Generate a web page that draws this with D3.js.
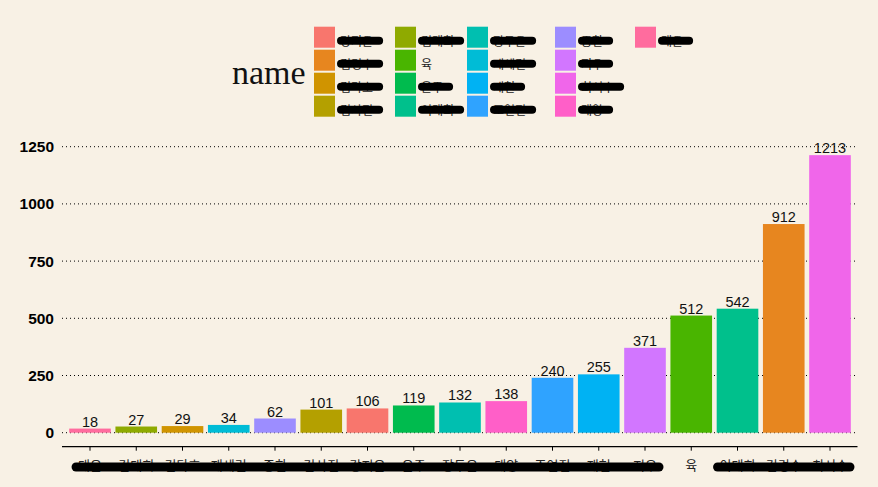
<!DOCTYPE html>
<html><head><meta charset="utf-8">
<script src="https://cdn.jsdelivr.net/npm/d3@7"></script>
<style>body{margin:0;background:#f8f1e5;} svg{display:block;}</style>
</head><body><svg id="c" width="878" height="487"></svg>
<script>
// ---- data ----
const categories = ["태은","김태희","김다호","재세린","종한","김사진","강지은","윤주","장두은","태양","조연진","재현","지우","육","이태희","김경수","최서수"];
const values = [18,27,29,34,62,101,106,119,132,138,240,255,371,512,542,912,1213];
const yTicks = [0,250,500,750,1000,1250];
const palette = ["#F8766D","#E7861F","#D09400","#B4A000","#8FAA00","#49B500","#00BB4E","#00C08C","#00BFB0","#00BCD6","#00B2F3","#2FA3FF","#9C8DFF","#D276FF","#F066EA","#FF5FC8","#FF6C9E"];
const legendTitle = "name";

const svg = d3.select("#c");
const W = 878, H = 487;
svg.append("rect").attr("width",W).attr("height",H).attr("fill","#f8f1e5");

const sorted = categories.slice().sort(d3.ascending);
const color = d3.scaleOrdinal().domain(sorted).range(palette);

const x = d3.scaleBand().domain(categories).range([62.25, 857.75]).paddingInner(0.1).paddingOuter(0.15);
const y = d3.scaleLinear().domain([0,1250]).range([432.7,146.7]);

// gridlines
svg.append("g").selectAll("line").data(yTicks).join("line")
  .attr("x1",62).attr("x2",857).attr("y1",d=>y(d)).attr("y2",d=>y(d))
  .attr("stroke","#000").attr("stroke-width",1).attr("stroke-dasharray","1,3");

// y labels
svg.append("g").selectAll("text").data(yTicks).join("text")
  .attr("x",54).attr("y",d=>y(d)).attr("dy","0.36em").attr("text-anchor","end")
  .attr("font-family","Liberation Sans, Arial, sans-serif").attr("font-weight","bold").attr("font-size",15.5)
  .attr("fill","#000").text(d=>d);

// bars
svg.append("g").selectAll("rect").data(categories).join("rect")
  .attr("x",d=>x(d)).attr("width",x.bandwidth())
  .attr("y",(d,i)=>y(values[i])).attr("height",(d,i)=>y(0)-y(values[i]))
  .attr("fill",d=>color(d));

// value labels
svg.append("g").selectAll("text").data(categories).join("text")
  .attr("x",d=>x(d)+x.bandwidth()/2).attr("y",(d,i)=>y(values[i])-2)
  .attr("text-anchor","middle").attr("font-family","Liberation Sans, Arial, sans-serif")
  .attr("font-size",14.5).attr("fill","#111").text((d,i)=>values[i]);

// x axis
const xa = svg.append("g").attr("transform","translate(0,446.7)");
xa.append("line").attr("x1",62).attr("x2",857.5).attr("stroke","#000").attr("stroke-width",1.2);
xa.selectAll("line.t").data(categories).join("line").attr("class","t")
  .attr("x1",d=>x(d)+x.bandwidth()/2).attr("x2",d=>x(d)+x.bandwidth()/2)
  .attr("y1",0).attr("y2",4).attr("stroke","#000");
const xl = svg.append("g").selectAll("text").data(categories).join("text")
  .attr("x",d=>x(d)+x.bandwidth()/2).attr("y",470).attr("text-anchor","middle")
  .attr("font-family","Noto Sans CJK KR, sans-serif").attr("font-size",13).attr("fill","#222").text(d=>d);

// redaction strokes over x labels (as in reference)
const nodes = xl.nodes();
[[0,12],[14,16]].forEach(([a,b])=>{
  const ba = nodes[a].getBBox(), bb = nodes[b].getBBox();
  svg.append("line").attr("x1",ba.x-2).attr("x2",bb.x+bb.width+2).attr("y1",467).attr("y2",467)
    .attr("stroke","#000").attr("stroke-width",9).attr("stroke-linecap","round");
});

// legend
svg.append("text").attr("x",232).attr("y",83.5).attr("font-family","Liberation Serif, Times New Roman, serif")
  .attr("font-size",34).attr("fill","#111").text(legendTitle);
const colX = [314,395,467,555,635];
const lg = svg.append("g").selectAll("g").data(sorted).join("g")
  .attr("transform",(d,i)=>`translate(${colX[Math.floor(i/4)]},${26.7+23*(i%4)})`);
lg.append("rect").attr("width",21).attr("height",21).attr("fill",d=>color(d));
lg.append("text").attr("x",26).attr("y",19).attr("font-family","Noto Sans CJK KR, sans-serif")
  .attr("font-size",12).attr("fill","#222").text(d=>d);
lg.each(function(d){
  if(d.length<2) return;
  const t = d3.select(this).select("text").node().getBBox();
  d3.select(this).append("line").attr("x1",t.x+1).attr("x2",t.x+t.width+6).attr("y1",14).attr("y2",14)
    .attr("stroke","#000").attr("stroke-width",8).attr("stroke-linecap","round");
});
</script></body></html>
